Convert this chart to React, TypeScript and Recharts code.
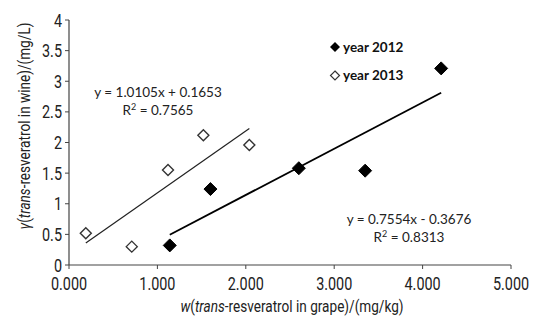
import React from 'react';
import { ScatterChart, Scatter, XAxis, YAxis, Customized } from 'recharts';

const year2012X = [1.14, 1.60, 2.60, 3.35, 4.21];
const year2012Y = [0.32, 1.24, 1.58, 1.54, 3.21];
const year2013X = [0.19, 0.71, 1.12, 1.52, 2.04];
const year2013Y = [0.52, 0.30, 1.55, 2.12, 1.96];
const fit2012 = { slope: 0.7554, intercept: -0.3676, r2: '0.8313' };
const fit2013 = { slope: 1.0105, intercept: 0.1653, r2: '0.7565' };
const xTicks = [0, 1, 2, 3, 4, 5];
const yTicks = [0, 0.5, 1, 1.5, 2, 2.5, 3, 3.5, 4];

const toPoints = (xs: number[], ys: number[]) => xs.map((x, i) => ({ x, y: ys[i] }));
const trend = (xs: number[], f: { slope: number; intercept: number }) => {
  const lo = Math.min(...xs);
  const hi = Math.max(...xs);
  return [lo, hi].map((x) => ({ x, y: f.slope * x + f.intercept }));
};

const data2012 = toPoints(year2012X, year2012Y);
const data2013 = toPoints(year2013X, year2013Y);
const trend2012 = trend(year2012X, fit2012);
const trend2013 = trend(year2013X, fit2013);

const NARROW = 'Roboto, "Liberation Sans", sans-serif';
const CAL = 'Lato, "Open Sans", sans-serif';
const SQ = 0.8;

const Diamond = (filled: boolean) => (props: any) => {
  const { cx, cy } = props;
  if (cx == null || cy == null) return null;
  const r = filled ? 6.5 : 5.5;
  return (
    <polygon
      points={`${cx},${cy - r} ${cx + r},${cy} ${cx},${cy + r} ${cx - r},${cy}`}
      fill={filled ? '#000' : '#fff'}
      stroke={filled ? '#000' : '#333'}
      strokeWidth={filled ? 1 : 1.4}
    />
  );
};

const NoShape = () => null;

const XTick = (props: any) => {
  const { x, y, payload } = props;
  return (
    <text transform={`translate(${x},${y + 21}) scale(${SQ},1)`} textAnchor="middle" fontFamily={NARROW} fontSize={18} fill="#222">
      {Number(payload.value).toFixed(3)}
    </text>
  );
};

const YTick = (props: any) => {
  const { x, y, payload } = props;
  return (
    <text transform={`translate(${x},${y + 6.5}) scale(${SQ},1)`} textAnchor="end" fontFamily={NARROW} fontSize={18} fill="#222">
      {String(payload.value)}
    </text>
  );
};

const sign = (v: number) => (v < 0 ? `- ${Math.abs(v).toFixed(4)}` : `+ ${v.toFixed(4)}`);

const Overlay = () => (
  <g>
    <text
      transform={`translate(30,126) rotate(-90) scale(${SQ},1)`}
      textAnchor="middle"
      fontFamily={NARROW}
      fontSize={17}
      fill="#222"
    >
      <tspan fontStyle="italic">γ</tspan>(<tspan fontStyle="italic">trans</tspan>-resveratrol in wine)/(mg/L)
    </text>
    <text transform={`translate(292,312) scale(${SQ},1)`} textAnchor="middle" fontFamily={NARROW} fontSize={17} fill="#222">
      <tspan fontStyle="italic">w</tspan>(<tspan fontStyle="italic">trans</tspan>-resveratrol in grape)/(mg/kg)
    </text>
    <text x={158} y={97} textAnchor="middle" fontFamily={CAL} fontSize={13.5} fill="#222">
      {`y = ${fit2013.slope.toFixed(4)}x ${sign(fit2013.intercept)}`}
    </text>
    <text x={158} y={115} textAnchor="middle" fontFamily={CAL} fontSize={13.5} fill="#222">
      R<tspan dy={-5} fontSize={9}>2</tspan><tspan dy={5}>{` = ${fit2013.r2}`}</tspan>
    </text>
    <text x={409} y={224} textAnchor="middle" fontFamily={CAL} fontSize={13.5} fill="#222">
      {`y = ${fit2012.slope.toFixed(4)}x ${sign(fit2012.intercept)}`}
    </text>
    <text x={409} y={242} textAnchor="middle" fontFamily={CAL} fontSize={13.5} fill="#222">
      R<tspan dy={-5} fontSize={9}>2</tspan><tspan dy={5}>{` = ${fit2012.r2}`}</tspan>
    </text>
    <polygon points="335,42 340,47 335,52 330,47" fill="#000" />
    <text x={343} y={51.5} fontFamily={CAL} fontWeight="bold" fontSize={13.5} fill="#111">year 2012</text>
    <polygon points="335,71 339.5,75.5 335,80 330.5,75.5" fill="#fff" stroke="#333" strokeWidth={1.2} />
    <text x={343} y={80} fontFamily={CAL} fontWeight="bold" fontSize={13.5} fill="#111">year 2013</text>
  </g>
);

export default function App() {
  return (
    <div style={{ position: 'absolute', left: 0, top: 0, width: 534, height: 319, background: '#fff' }}>
      <ScatterChart width={534} height={319} margin={{ top: 20, right: 23, bottom: 24, left: 0 }}>
        <XAxis
          type="number"
          dataKey="x"
          domain={[0, 5]}
          ticks={xTicks}
          height={30}
          axisLine={{ stroke: '#444', strokeWidth: 1.2 }}
          tickLine={{ stroke: '#444' }}
          tickSize={4}
          tick={<XTick />}
          tickMargin={0}
          interval={0}
          allowDataOverflow
        />
        <YAxis
          type="number"
          dataKey="y"
          domain={[0, 4]}
          ticks={yTicks}
          width={69}
          axisLine={{ stroke: '#444', strokeWidth: 1.2 }}
          tickLine={{ stroke: '#444' }}
          tickSize={4}
          tickMargin={3}
          tick={<YTick />}
          interval={0}
          allowDataOverflow
        />
        <Scatter data={trend2013} line={{ stroke: '#222', strokeWidth: 1.2 }} shape={NoShape} isAnimationActive={false} />
        <Scatter data={trend2012} line={{ stroke: '#000', strokeWidth: 1.8 }} shape={NoShape} isAnimationActive={false} />
        <Scatter name="year 2013" data={data2013} shape={Diamond(false)} isAnimationActive={false} />
        <Scatter name="year 2012" data={data2012} shape={Diamond(true)} isAnimationActive={false} />
        <Customized component={Overlay} />
      </ScatterChart>
    </div>
  );
}
